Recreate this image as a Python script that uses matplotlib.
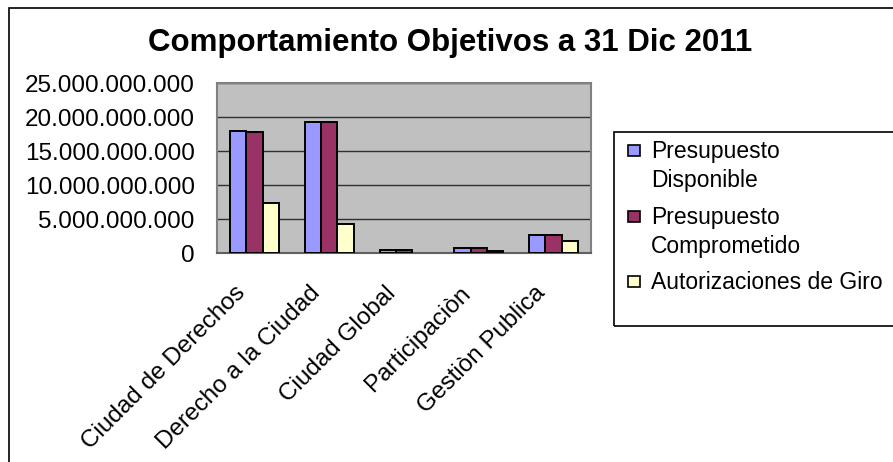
import matplotlib.pyplot as plt
import matplotlib.patches as mpatches
from matplotlib.ticker import FuncFormatter
from matplotlib.transforms import ScaledTranslation
import numpy as np

plt.rcParams['font.family'] = ['Liberation Sans', 'DejaVu Sans']

categories = ["Ciudad de Derechos", "Derecho a la Ciudad", "Ciudad Global",
              "Participaciòn", "Gestiòn Publica"]
disponible = [18.0e9, 19.2e9, 0.5e9, 0.8e9, 2.6e9]
comprometido = [17.75e9, 19.2e9, 0.5e9, 0.8e9, 2.6e9]
giro = [7.4e9, 4.25e9, 0.0, 0.25e9, 1.7e9]

series = [
    ("Presupuesto\nDisponible", disponible, "#9999FF"),
    ("Presupuesto\nComprometido", comprometido, "#993366"),
    ("Autorizaciones de Giro", giro, "#FFFFCC"),
]

W, H = 893, 462
fs = 17.5
fig = plt.figure(figsize=(W / 100, H / 100), dpi=100)
fig.patch.set_facecolor("white")
ax = fig.add_axes([217 / W, 1 - 253 / H, (591 - 217) / W, (253 - 83) / H])
ax.set_facecolor("#C0C0C0")

x = np.arange(len(categories))
bw = 0.218
for i, (name, vals, col) in enumerate(series):
    bars = ax.bar(x + (i - 1) * bw, vals, bw, color=col, edgecolor="black",
                  linewidth=1.4, zorder=3)
    for b, v in zip(bars, vals):
        if v == 0:
            b.set_visible(False)

ax.set_xlim(-0.5, len(categories) - 0.5)
ax.set_ylim(0, 25e9)
ax.set_yticks(np.arange(0, 25e9 + 1, 5e9))
ax.yaxis.set_major_formatter(FuncFormatter(lambda v, p: f"{int(v):,}".replace(",", ".")))
ax.yaxis.grid(True, color="#303030", linewidth=1, zorder=1)
ax.set_axisbelow(True)
ax.tick_params(axis="y", length=0, pad=16, labelsize=fs)
ax.set_xticks(x)
ax.set_xticklabels(categories, rotation=45, ha="right", va="center",
                   rotation_mode="anchor", fontsize=fs)
ax.tick_params(axis="x", length=0, pad=26.5)
shift = ScaledTranslation(-0.12, 0, fig.dpi_scale_trans)
for lab in ax.get_xticklabels():
    lab.set_transform(lab.get_transform() + shift)
for s in ax.spines.values():
    s.set_color("#808080")
    s.set_linewidth(1.5)
ax.spines["bottom"].set_color("#606060")

fig.text(450 / W, 1 - 43 / H, "Comportamiento Objetivos a 31 Dic 2011",
         ha="center", va="center", fontsize=22.5, fontweight="bold")

# outer chart border (runs off the right and bottom edges)
fig.patches.append(mpatches.Rectangle((8.5 / W, -0.1), 1.2, 1.1 - 8.5 / H,
                                      transform=fig.transFigure, fill=False,
                                      edgecolor="black", linewidth=1.2))

# legend box
fig.patches.append(mpatches.Rectangle((614 / W, 1 - 326 / H), 0.5, (326 - 132) / H,
                                      transform=fig.transFigure, fill=False,
                                      edgecolor="black", linewidth=1.2))
ys = [150, 216, 281]
for (name, vals, col), yc in zip(series, ys):
    fig.patches.append(mpatches.Rectangle((628 / W, 1 - (yc + 6) / H), 12 / W, 11 / H,
                                          transform=fig.transFigure, facecolor=col,
                                          edgecolor="black", linewidth=1.2))
    fig.text(651 / W, 1 - (yc - 10) / H, name, ha="left", va="top",
             fontsize=16.5, linespacing=1.33)

fig.savefig("out.png", dpi=100)
